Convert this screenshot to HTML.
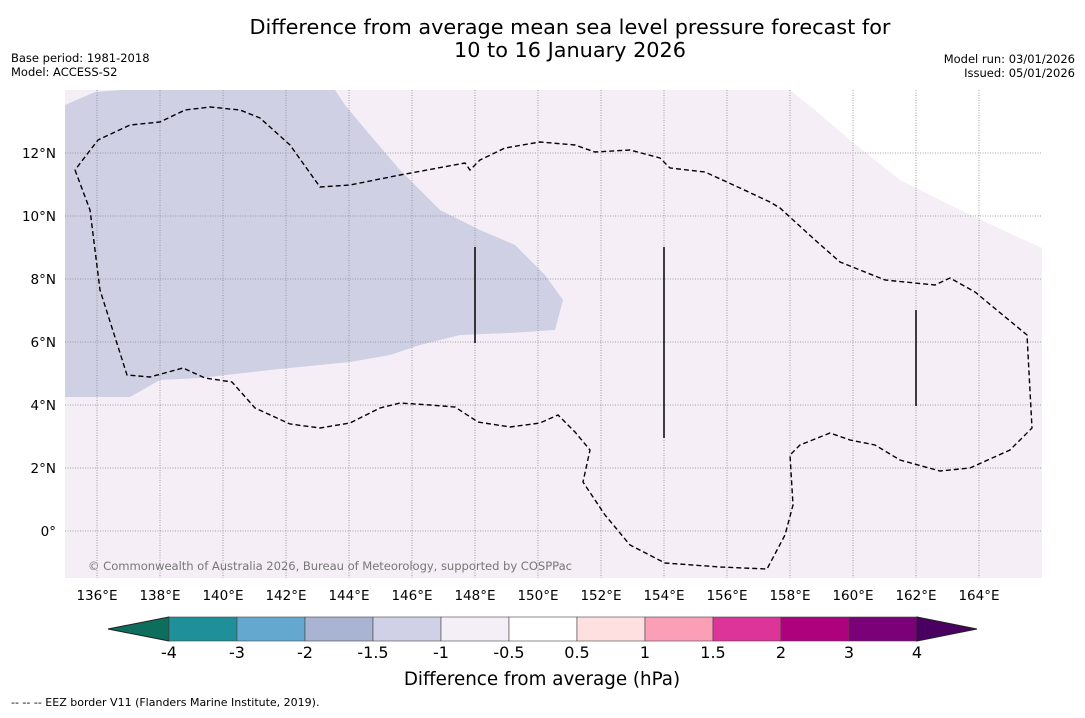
<!DOCTYPE html>
<html><head><meta charset="utf-8"><style>
body{margin:0;background:#fff;font-family:"Liberation Sans","DejaVu Sans",sans-serif;}
</style></head><body>
<svg width="1085" height="713" xmlns="http://www.w3.org/2000/svg" font-family="DejaVu Sans, Liberation Sans, sans-serif">
<text x="570" y="34" text-anchor="middle" font-size="20.8">Difference from average mean sea level pressure forecast for</text>
<text x="570" y="57" text-anchor="middle" font-size="20.8">10 to 16 January 2026</text>
<text x="11" y="62" font-size="11.5">Base period: 1981-2018</text>
<text x="11" y="76" font-size="11.5">Model: ACCESS-S2</text>
<text x="1075" y="63" font-size="11.5" text-anchor="end">Model run: 03/01/2026</text>
<text x="1075" y="77" font-size="11.5" text-anchor="end">Issued: 05/01/2026</text>
<g id="map">
<rect x="65" y="90" width="977" height="488" fill="#f5eef6"/>
<polygon fill="#cfd0e4" points="65,105 95,92 120,90 335,90 345,105 370,135 400,170 440,210 480,230 515,245 545,275 563,300 555,330 510,333 460,335 420,345 390,355 350,362 270,370 200,378 160,380 130,397 65,397"/>
<polygon fill="#ffffff" points="790,90 1042,90 1042,248 1020,238 960,210 900,180 850,140 815,110"/>
<g id="grid" stroke="#888" stroke-width="0.8" stroke-dasharray="1,1.5"></g>
<polyline fill="none" stroke="#000" stroke-width="1.4" stroke-dasharray="5,3" points="75,170 90,210 100,290 127,375 150,377 183,368 205,378 232,382 255,408 290,424 320,428 350,423 380,408 400,403 430,405 455,407 478,422 510,427 540,423 558,415 575,432 590,450 583,482 605,515 630,545 665,563 720,567 767,569 785,535 793,505 790,455 800,445 830,433 850,440 875,445 900,460 940,471 970,468 1010,450 1032,428 1027,335 975,292 950,278 935,285 885,280 840,262 815,240 780,208 770,202 740,188 705,172 670,168 660,158 630,150 595,152 575,145 540,142 505,148 480,160 470,170 465,163 400,175 350,185 320,187 290,145 260,118 240,110 210,107 185,110 160,122 130,125 98,140 75,170"/>
<g stroke="#000" stroke-width="1.5">
<line x1="475" y1="247" x2="475" y2="343"/><line x1="664" y1="247" x2="664" y2="438"/><line x1="916" y1="310" x2="916" y2="406"/>
</g>
<text x="88" y="570" font-size="11.6" fill="#777" textLength="484">© Commonwealth of Australia 2026, Bureau of Meteorology, supported by COSPPac</text>
</g>
<g id="xlabels" font-size="13.5"></g>
<g id="ylabels" font-size="13.5"></g>
<g id="cbar"></g>
<text x="542" y="685" text-anchor="middle" font-size="18.3">Difference from average (hPa)</text>
<text x="11" y="706" font-size="11">--  --  -- EEZ border V11 (Flanders Marine Institute, 2019).</text>
</svg>
<script>
const lonTicks=[136,138,140,142,144,146,148,150,152,154,156,158,160,162,164];
const latTicks=[0,2,4,6,8,10,12];
const cbarLabels=["-4","-3","-2","-1.5","-1","-0.5","0.5","1","1.5","2","3","4"];
const cbarColors=["#1f9099","#64a8d0","#a9b4d2","#d0d1e6","#f4eef7","#ffffff","#fee0e0","#fa9fb6","#dd3499","#ae017e","#7a0177"];
const NS="http://www.w3.org/2000/svg";
const xs=lon=>97+(lon-136)*31.5, ys=lat=>531-lat*31.5;
function mk(t,a,p){const e=document.createElementNS(NS,t);for(const k in a)e.setAttribute(k,a[k]);p.appendChild(e);return e;}
const grid=document.getElementById('grid'),xl=document.getElementById('xlabels'),yl=document.getElementById('ylabels'),cb=document.getElementById('cbar');
lonTicks.forEach(l=>{const g=mk('line',{x1:xs(l),x2:xs(l),y1:90,y2:578},grid);


const t=mk('text',{x:xs(l),y:600,'text-anchor':'middle'},xl);t.textContent=l+'°E';

});
latTicks.forEach(l=>{const g=mk('line',{x1:65,x2:1042,y1:ys(l),y2:ys(l)},grid);


const t=mk('text',{x:56,y:ys(l)+5,'text-anchor':'end'},yl);t.textContent=l===0?'0°':l+'°N';

});
const x0=169,w=68,y0=617,h=24;
const lt=mk('polygon',{points:`${x0},${y0} ${x0},${y0+h} 108,${y0+h/2}`,fill:'#0d6e5e',stroke:'#222','stroke-width':1},cb);


cbarColors.forEach((c,i)=>{const r=mk('rect',{x:x0+i*w,y:y0,width:w,height:h,fill:c,stroke:'#444','stroke-width':0.6},cb);

});
const xe=x0+cbarColors.length*w;
const rt=mk('polygon',{points:`${xe},${y0} ${xe},${y0+h} 977,${y0+h/2}`,fill:'#4a0060',stroke:'#222','stroke-width':1},cb);


cbarLabels.forEach((s,i)=>{const t=mk('text',{x:x0+i*w,y:658,'text-anchor':'middle','font-size':16},cb);t.textContent=s;

});
</script>
</body></html>
